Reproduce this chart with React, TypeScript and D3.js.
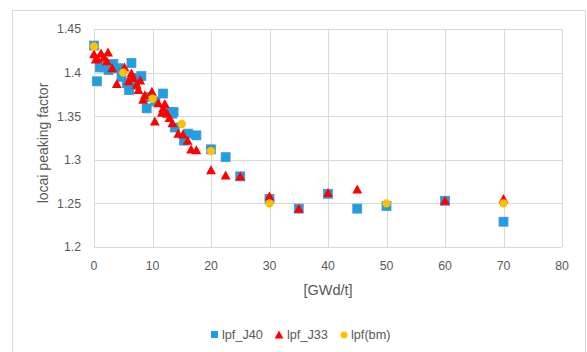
import React from "react";
import * as d3 from "d3";

const xTicks = [0, 10, 20, 30, 40, 50, 60, 70, 80];
const yTicks = [1.2, 1.25, 1.3, 1.35, 1.4, 1.45];
const yTickLabels = ["1.2", "1.25", "1.3", "1.35", "1.4", "1.45"];

const seriesNames = ["lpf_J40", "lpf_J33", "lpf(bm)"];

const lpfJ40: [number, number][] = [
  [0, 1.431], [0.5, 1.39], [1, 1.406], [1.8, 1.406], [2.5, 1.403], [3.3, 1.41],
  [4.2, 1.405], [4.7, 1.395], [5.6, 1.388], [6, 1.38], [6.4, 1.411], [6.8, 1.394],
  [7, 1.386], [8.1, 1.396], [9, 1.359], [9.5, 1.372], [10.5, 1.367], [11.8, 1.376],
  [12.5, 1.355], [13.4, 1.353], [13.6, 1.355], [13.8, 1.337], [15.4, 1.322],
  [16.1, 1.33], [17.5, 1.328], [20, 1.312], [22.5, 1.303], [25, 1.281], [30, 1.255],
  [35, 1.244], [40, 1.261], [45, 1.244], [50, 1.247], [60, 1.253], [70, 1.229],
];

const lpfJ33: [number, number][] = [
  [0, 1.421], [0.3, 1.415], [0.6, 1.416], [1.2, 1.422], [1.7, 1.417], [2.2, 1.413],
  [2.4, 1.423], [3.1, 1.405], [3.9, 1.387], [5.2, 1.406], [5.9, 1.39], [6.4, 1.399],
  [6.7, 1.394], [7.3, 1.386], [7.6, 1.38], [7.9, 1.391], [8.4, 1.369], [8.7, 1.374],
  [9.9, 1.378], [10.4, 1.344], [11, 1.365], [11.6, 1.354], [11.8, 1.359], [12.1, 1.364],
  [12.5, 1.353], [12.9, 1.348], [13.4, 1.342], [14.4, 1.33], [15.2, 1.329], [16, 1.322],
  [16.6, 1.312], [17.5, 1.311], [20, 1.288], [22.5, 1.282], [25, 1.281], [30, 1.258],
  [35, 1.244], [40, 1.262], [45, 1.266], [60, 1.253], [70, 1.255],
];

const lpfBm: [number, number][] = [
  [0, 1.43], [5, 1.4], [10, 1.37], [15, 1.341], [20, 1.31], [30, 1.25], [50, 1.25], [70, 1.25],
];

const W = 587;
const H = 352;
const plot = { left: 94, right: 562, top: 29, bottom: 247 };
const font = "'Liberation Sans', Arial, sans-serif";
const textColor = "#595959";
const gridColor = "#d9d9d9";
const blue = "#1BA1E2";
const blueStroke = "#4F8FD0";
const red = "#FF0000";
const gold = "#FFC000";

const x = d3.scaleLinear().domain([0, 80]).range([plot.left, plot.right]);
const y = d3.scaleLinear().domain([1.2, 1.45]).range([plot.bottom, plot.top]);

const tri = (cx: number, cy: number, s: number) =>
  `M${cx},${cy - s * 0.55}L${cx + s * 0.55},${cy + s * 0.45}L${cx - s * 0.55},${cy + s * 0.45}Z`;

export default function App() {
  return (
    <div style={{ position: "absolute", left: 0, top: 0 }}>
      <svg width={W} height={H} style={{ display: "block", background: "#fff" }}>
        <rect x={12.5} y={10.5} width={573} height={370} fill="#fff" stroke={gridColor} />
        {yTicks.map((t) => (
          <line key={"h" + t} x1={plot.left} x2={plot.right} y1={Math.round(y(t)) + 0.5} y2={Math.round(y(t)) + 0.5} stroke={gridColor} strokeWidth={1} />
        ))}
        {xTicks.map((t) => (
          <line key={"v" + t} x1={Math.round(x(t)) + 0.5} x2={Math.round(x(t)) + 0.5} y1={plot.top} y2={plot.bottom} stroke={gridColor} strokeWidth={1} />
        ))}
        {yTicks.map((t, i) => (
          <text key={"yl" + t} x={81} y={y(t)} dy="0.35em" textAnchor="end" fontFamily={font} fontSize={12.3} fill={textColor}>
            {yTickLabels[i]}
          </text>
        ))}
        {xTicks.map((t) => (
          <text key={"xl" + t} x={x(t)} y={266} dy="0.35em" textAnchor="middle" fontFamily={font} fontSize={12.3} fill={textColor}>
            {t}
          </text>
        ))}
        <text x={328} y={290} dy="0.35em" textAnchor="middle" fontFamily={font} fontSize={14.5} fill={textColor}>
          [GWd/t]
        </text>
        <text transform={`translate(43,143) rotate(-90)`} dy="0.35em" textAnchor="middle" fontFamily={font} fontSize={14} fill={textColor}>
          locai peaking factor
        </text>
        <g>
          {lpfJ40.map(([a, b], i) => (
            <rect key={"s" + i} x={x(a) - 4.5} y={y(b) - 4.5} width={9} height={9} fill={blue} stroke={blueStroke} strokeWidth={0.75} />
          ))}
        </g>
        <g>
          {lpfJ33.map(([a, b], i) => (
            <path key={"t" + i} d={tri(x(a), y(b), 9)} fill={red} />
          ))}
        </g>
        <g>
          {lpfBm.map(([a, b], i) => (
            <circle key={"c" + i} cx={x(a)} cy={y(b)} r={4.2} fill={gold} />
          ))}
        </g>
        <g fontFamily={font} fontSize={12.7} fill={textColor}>
          <rect x={211} y={331} width={7} height={7} fill={blue} />
          <text x={222} y={335} dy="0.35em">{seriesNames[0]}</text>
          <path d={tri(279, 335, 8)} fill={red} />
          <text x={287} y={335} dy="0.35em">{seriesNames[1]}</text>
          <circle cx={344} cy={335} r={3.5} fill={gold} />
          <text x={351} y={335} dy="0.35em">{seriesNames[2]}</text>
        </g>
      </svg>
    </div>
  );
}
